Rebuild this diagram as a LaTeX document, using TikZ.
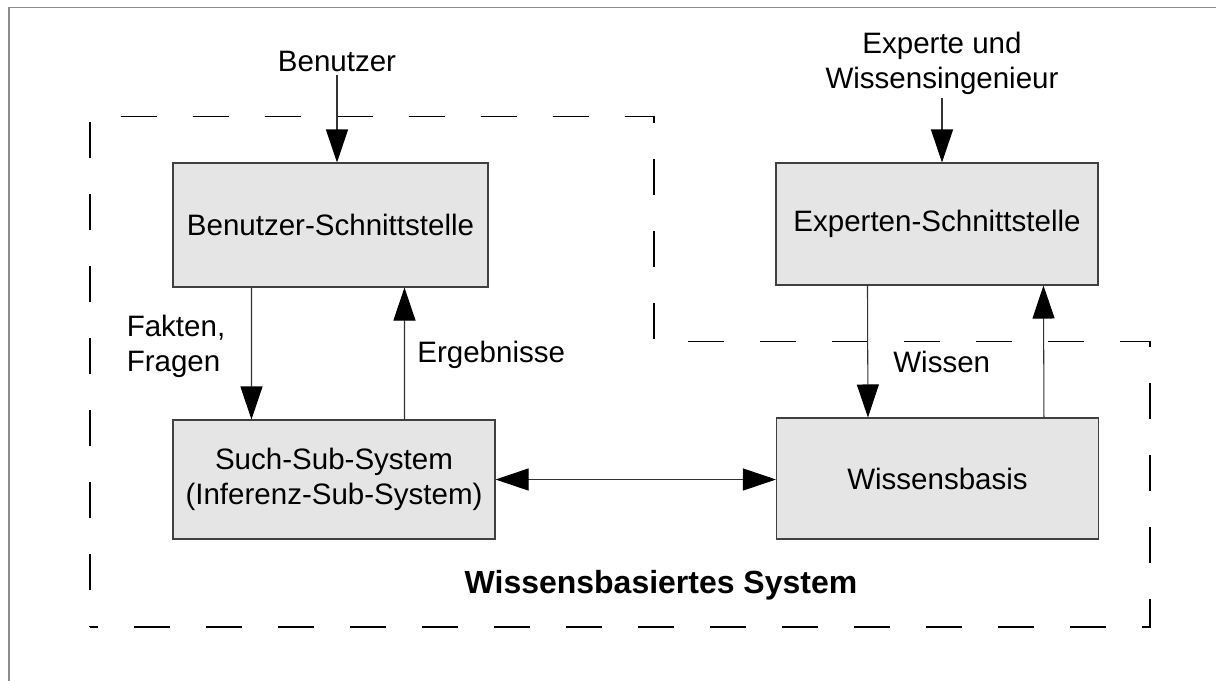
\documentclass[tikz,border=0pt]{standalone}
\usepackage{fontspec}
\setmainfont{Liberation Sans}
\usepackage{tikz}
\usetikzlibrary{arrows.meta, positioning}
\tikzstyle{modul} = [rectangle, minimum width=6.44cm, minimum height=2.44cm, text centered, align=center, draw=black!75, fill=black!10, line width=0.6pt]
\tikzstyle{pfeil} = [draw=black!80, line width=0.6pt, -{Triangle[length=0.66cm, width=0.44cm, black]}]
\tikzstyle{doppelpfeil} = [draw=black!80, line width=0.6pt, {Triangle[length=0.66cm, width=0.44cm, black]}-{Triangle[length=0.66cm, width=0.44cm, black]}]
\tikzstyle{grenze} = [draw=black, line width=0.6pt, dash pattern=on 0.72cm off 0.72cm, dash phase=0.7cm]
\tikzstyle{beschriftung} = [align=left, inner sep=0pt]

\begin{document}
\begin{tikzpicture}[font=\fontsize{16.8}{20}\selectfont]
\useasboundingbox (0,0) rectangle (24.32,-13.62);
% Rahmen
\draw[black!45, line width=1pt] (0.18,-13.62) -- (0.18,-0.15) -- (24.32,-0.15);
% Systemgrenze
\draw[grenze] (1.8,-12.54) -- (1.8,-2.33) -- (13.08,-2.33) -- (13.08,-6.83) -- (23.0,-6.83) -- (23.0,-12.54) -- cycle;

\node (bs) [modul, minimum width=6.3cm, minimum height=2.48cm] at (6.61,-4.5) {Benutzer-Schnittstelle};
\node (es) [modul] at (18.74,-4.48) {Experten-Schnittstelle};
\node (such) [modul, minimum height=2.38cm] at (6.68,-9.59) {Such-Sub-System\\(Inferenz-Sub-System)};
\node (wb) [modul, minimum height=2.42cm] at (18.75,-9.57) {Wissensbasis};

\node (benutzer) [inner sep=2pt] at (6.74,-1.22) {Benutzer};
\node (experte) [align=center, inner sep=2pt] at (18.84,-1.26) {Experte und\\Wissensingenieur};

\node (fakten) [beschriftung] at (3.52,-6.92) {Fakten,\\Fragen};
\node (ergebnisse) [beschriftung, anchor=west] at (8.34,-7.1) {Ergebnisse};
\node (wissen) [beschriftung, anchor=west] at (17.86,-7.24) {Wissen};
\node (system) [font=\fontsize{18.2}{22}\selectfont\bfseries] at (13.22,-11.7) {Wissensbasiertes System};

\draw[pfeil] (benutzer.south) -- (bs.north -| benutzer.south);
\draw[pfeil] (experte.south) -- (es.north -| experte.south);
\draw[pfeil] ([xshift=1.58cm]bs.south west) -- ([xshift=1.58cm]such.north west);
\draw[pfeil] ([xshift=4.64cm]such.north west) -- ([xshift=4.64cm]bs.south west);
\draw[pfeil] ([xshift=1.84cm]es.south west) -- ([xshift=1.84cm]wb.north west);
\draw[pfeil] ([xshift=5.36cm]wb.north west) -- ([xshift=5.36cm]es.south west);
\draw[doppelpfeil] (such.east) -- (such.east -| wb.west);
\end{tikzpicture}
\end{document}
